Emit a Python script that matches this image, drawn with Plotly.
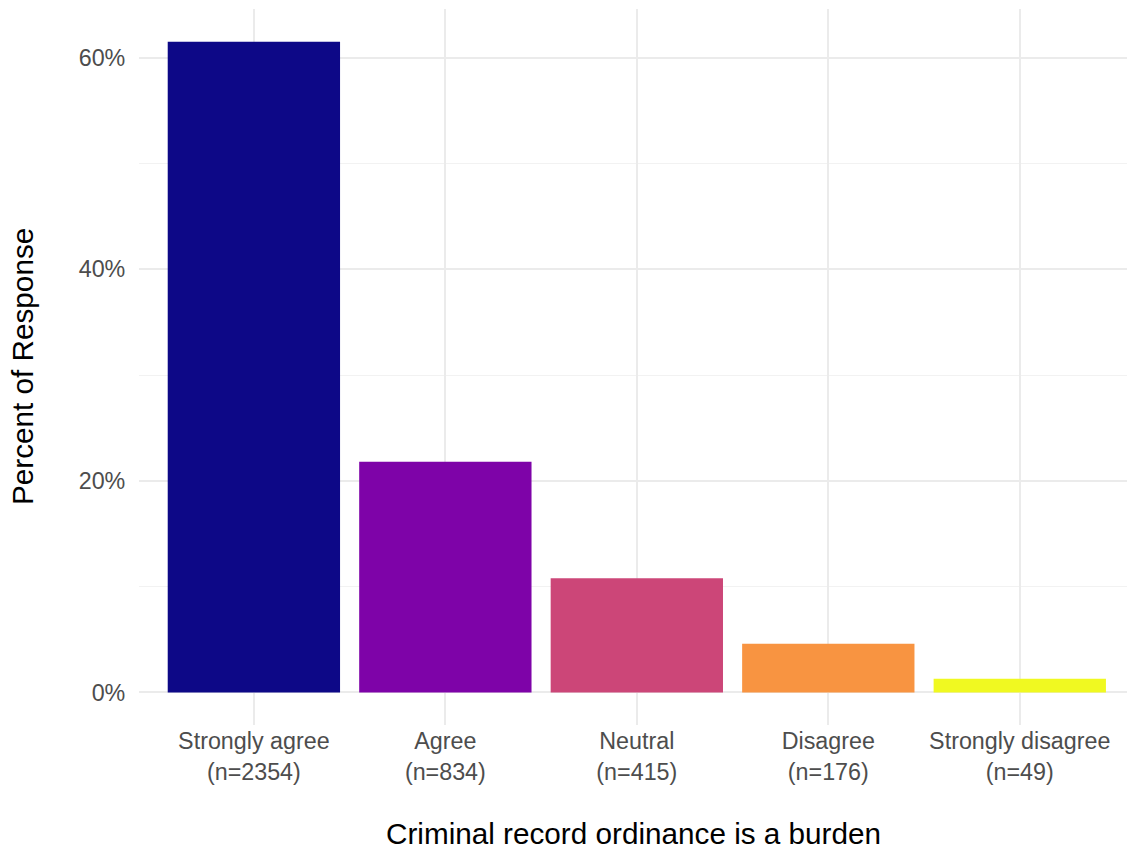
import plotly.graph_objects as go

categories = ["Strongly agree", "Agree", "Neutral", "Disagree", "Strongly disagree"]
counts = [2354, 834, 415, 176, 49]
percents = [61.5, 21.8, 10.8, 4.6, 1.3]
colors = ["#0D0887", "#7E03A8", "#CC4678", "#F89441", "#F0F921"]
y_ticks = [0, 20, 40, 60]
y_tick_labels = ["0%", "20%", "40%", "60%"]

tick_text = [f"{c}<br>(n={n})" for c, n in zip(categories, counts)]

fig = go.Figure(go.Bar(
    x=list(range(len(categories))),
    y=percents,
    marker=dict(color=colors, line=dict(width=0)),
    width=0.9,
    showlegend=False,
))

font_family = "Liberation Sans, Arial, sans-serif"

fig.update_layout(
    width=1127, height=849,
    margin=dict(l=139, r=0, t=9, b=124, autoexpand=False),
    plot_bgcolor="white", paper_bgcolor="white",
    font=dict(family=font_family),
    xaxis=dict(
        range=[-0.6, 4.56], automargin=False,
        tickmode="array", tickvals=list(range(len(categories))), ticktext=tick_text,
        showgrid=True, gridcolor="#EBEBEB", gridwidth=2,
        zeroline=False, showline=False,
        tickfont=dict(size=23.3, color="#4D4D4D"),
        ticks="",
    ),
    yaxis=dict(
        range=[-3.08, 64.6], automargin=False,
        tickmode="array", tickvals=y_ticks, ticktext=y_tick_labels,
        showgrid=True, gridcolor="#EBEBEB", gridwidth=2,
        zeroline=False, showline=False,
        tickfont=dict(size=23.3, color="#4D4D4D"),
        ticks="outside", ticklen=8, tickcolor="rgba(0,0,0,0)",
        minor=dict(tickvals=[10, 30, 50], showgrid=True, gridcolor="#F2F2F2", gridwidth=1),
    ),
    annotations=[
        dict(text="Criminal record ordinance is a burden", xref="paper", yref="paper",
             x=0.5, y=0, yshift=-108, xanchor="center", yanchor="middle", borderpad=0,
             showarrow=False, font=dict(size=29.7, color="black", family=font_family)),
        dict(text="Percent of Response", xref="paper", yref="paper",
             x=0, xshift=-117, y=0.5, textangle=-90, xanchor="center", yanchor="middle", borderpad=0,
             showarrow=False, font=dict(size=29.7, color="black", family=font_family)),
    ],
)

fig.write_html(
    "out.html",
    config={"displayModeBar": False},
    post_script="document.body.style.margin='0';document.body.style.overflow='hidden';",
)
